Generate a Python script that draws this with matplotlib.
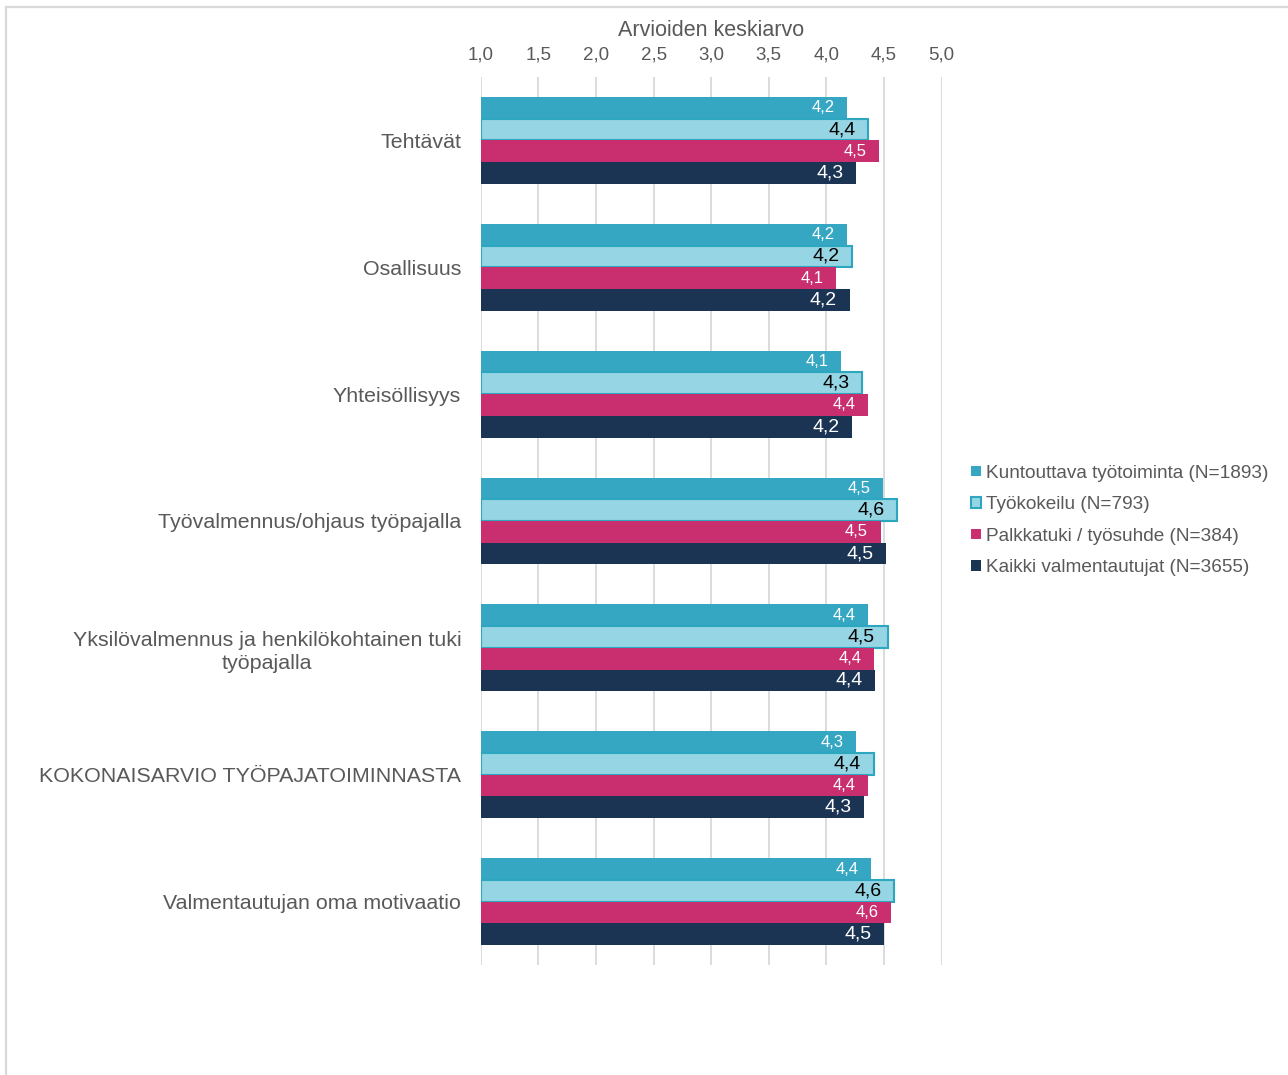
import matplotlib
matplotlib.use("Agg")
import matplotlib.pyplot as plt
from matplotlib.lines import Line2D
from matplotlib.patches import Patch
import numpy as np

plt.rcParams['font.family'] = ['Liberation Sans', 'DejaVu Sans']

categories = [
    "Tehtävät",
    "Osallisuus",
    "Yhteisöllisyys",
    "Työvalmennus/ohjaus työpajalla",
    "Yksilövalmennus ja henkilökohtainen tuki\ntyöpajalla",
    "KOKONAISARVIO TYÖPAJATOIMINNASTA",
    "Valmentautujan oma motivaatio",
]

series_names = [
    "Kuntouttava työtoiminta (N=1893)",
    "Työkokeilu (N=793)",
    "Palkkatuki / työsuhde (N=384)",
    "Kaikki valmentautujat (N=3655)",
]

kuntouttava = [4.18, 4.18, 4.13, 4.49, 4.36, 4.26, 4.39]
tyokokeilu = [4.36, 4.22, 4.31, 4.61, 4.53, 4.41, 4.59]
palkkatuki = [4.46, 4.08, 4.36, 4.47, 4.41, 4.36, 4.56]
kaikki = [4.26, 4.20, 4.22, 4.52, 4.42, 4.33, 4.50]

x_ticks = [1.0, 1.5, 2.0, 2.5, 3.0, 3.5, 4.0, 4.5, 5.0]

values = [kuntouttava, tyokokeilu, palkkatuki, kaikki]
face_colors = ["#35A7C3", "#96D5E3", "#C92E6F", "#1B3453"]
edge_colors = ["none", "#2DA6C0", "none", "none"]
label_colors = ["white", "black", "white", "white"]
label_sizes = [12, 14, 12, 14]

grid_color = "#D9D9D9"
text_color = "#595959"


def fmt(v):
    return f"{v:.1f}".replace(".", ",")


fig = plt.figure(figsize=(12.88, 10.75), dpi=100)
ax = fig.add_axes([480.7 / 1288, 1 - 965 / 1075, 461 / 1288, 888 / 1075])

bar_h = 0.171
y_base = np.arange(len(categories))
for i, vals in enumerate(values):
    ys = y_base - 2 * bar_h + (i + 0.5) * bar_h
    widths = np.array(vals) - 1.0
    ax.barh(ys, widths, left=1.0, height=bar_h, color=face_colors[i],
            edgecolor=edge_colors[i], linewidth=1.5 if i == 1 else 0,
            label=series_names[i], zorder=3)
    for y, v in zip(ys, vals):
        ax.annotate(fmt(v), xy=(v, y), xytext=(-9, 0),
                    textcoords="offset points", ha="right", va="center",
                    color=label_colors[i], fontsize=label_sizes[i], zorder=4)

ax.set_xlim(1.0, 5.0)
ax.set_ylim(len(categories) - 0.5, -0.5)
ax.set_xticks(x_ticks)
ax.set_xticklabels([fmt(t) for t in x_ticks])
ax.xaxis.tick_top()
ax.xaxis.set_label_position("top")
ax.tick_params(axis="x", length=0, pad=9.5, labelsize=13.5, labelcolor=text_color)
ax.set_xlabel("Arvioiden keskiarvo", fontsize=15.5, color=text_color, labelpad=8)

ax.set_yticks(y_base)
ax.set_yticklabels(categories, multialignment="center", linespacing=1.25)
ax.tick_params(axis="y", length=0, pad=14, labelsize=15.4, labelcolor=text_color)

ax.grid(axis="x", color=grid_color, linewidth=1.3, zorder=0)
ax.set_axisbelow(True)
for s in ax.spines.values():
    s.set_visible(False)

handles = [Patch(facecolor=face_colors[i], edgecolor=edge_colors[i],
                 linewidth=1.5 if i == 1 else 0, label=series_names[i])
           for i in range(4)]
fig.legend(handles=handles, loc="center left",
           bbox_to_anchor=(971 / 1288, 1 - 520.5 / 1075), frameon=False,
           fontsize=13.7, labelcolor=text_color, handlelength=0.5,
           handleheight=0.5, handletextpad=0.3, labelspacing=0.76,
           borderaxespad=0, borderpad=0)

# outer frame (top and left edges)
fig.add_artist(Line2D([6 / 1288, 1.0], [1 - 7 / 1075, 1 - 7 / 1075],
                      transform=fig.transFigure, color=grid_color, linewidth=1.6))
fig.add_artist(Line2D([6 / 1288, 6 / 1288], [0, 1 - 7 / 1075],
                      transform=fig.transFigure, color=grid_color, linewidth=1.6))

fig.savefig("out.png", dpi=100, facecolor="white")
